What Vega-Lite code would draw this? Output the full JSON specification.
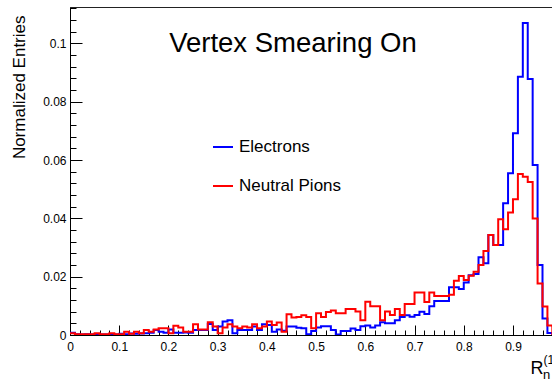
{
  "$schema": "https://vega.github.io/schema/vega-lite/v6.json",
  "width": 482,
  "height": 328,
  "autosize": {"type": "none"},
  "padding": {"left": 70, "top": 7, "right": 0, "bottom": 44},
  "background": "white",
  "config": {
    "font": "Liberation Sans",
    "view": {"stroke": "#222", "strokeWidth": 1},
    "axis": {
      "labelFont": "Liberation Sans",
      "titleFont": "Liberation Sans",
      "labelColor": "#000",
      "titleColor": "#000",
      "domainColor": "#000",
      "tickColor": "#000",
      "grid": false,
      "labelOverlap": false,
      "labelFlush": false,
      "titleFontWeight": "normal"
    }
  },
  "resolve": {"axis": {"x": "independent", "y": "independent"}},
  "datasets": {
    "hist": [
      {"r": 0.00, "entries": 0.0008, "sample": "Electrons"},
      {"r": 0.01, "entries": 0.0003, "sample": "Electrons"},
      {"r": 0.02, "entries": 0.0002, "sample": "Electrons"},
      {"r": 0.03, "entries": 0.0003, "sample": "Electrons"},
      {"r": 0.04, "entries": 0.0002, "sample": "Electrons"},
      {"r": 0.05, "entries": 0.0003, "sample": "Electrons"},
      {"r": 0.06, "entries": 0.0002, "sample": "Electrons"},
      {"r": 0.07, "entries": 0.0002, "sample": "Electrons"},
      {"r": 0.08, "entries": 0.0003, "sample": "Electrons"},
      {"r": 0.09, "entries": 0.0002, "sample": "Electrons"},
      {"r": 0.10, "entries": 0.0004, "sample": "Electrons"},
      {"r": 0.11, "entries": 0.0003, "sample": "Electrons"},
      {"r": 0.12, "entries": 0.0005, "sample": "Electrons"},
      {"r": 0.13, "entries": 0.0004, "sample": "Electrons"},
      {"r": 0.14, "entries": 0.0005, "sample": "Electrons"},
      {"r": 0.15, "entries": 0.0006, "sample": "Electrons"},
      {"r": 0.16, "entries": 0.0008, "sample": "Electrons"},
      {"r": 0.17, "entries": 0.0017, "sample": "Electrons"},
      {"r": 0.18, "entries": 0.0011, "sample": "Electrons"},
      {"r": 0.19, "entries": 0.0008, "sample": "Electrons"},
      {"r": 0.20, "entries": 0.0019, "sample": "Electrons"},
      {"r": 0.21, "entries": 0.0008, "sample": "Electrons"},
      {"r": 0.22, "entries": 0.0008, "sample": "Electrons"},
      {"r": 0.23, "entries": 0.0009, "sample": "Electrons"},
      {"r": 0.24, "entries": 0.0008, "sample": "Electrons"},
      {"r": 0.25, "entries": 0.0017, "sample": "Electrons"},
      {"r": 0.26, "entries": 0.0017, "sample": "Electrons"},
      {"r": 0.27, "entries": 0.0017, "sample": "Electrons"},
      {"r": 0.28, "entries": 0.0038, "sample": "Electrons"},
      {"r": 0.29, "entries": 0.0017, "sample": "Electrons"},
      {"r": 0.30, "entries": 0.0029, "sample": "Electrons"},
      {"r": 0.31, "entries": 0.0046, "sample": "Electrons"},
      {"r": 0.32, "entries": 0.0051, "sample": "Electrons"},
      {"r": 0.33, "entries": 0.0006, "sample": "Electrons"},
      {"r": 0.34, "entries": 0.0017, "sample": "Electrons"},
      {"r": 0.35, "entries": 0.0017, "sample": "Electrons"},
      {"r": 0.36, "entries": 0.0017, "sample": "Electrons"},
      {"r": 0.37, "entries": 0.0029, "sample": "Electrons"},
      {"r": 0.38, "entries": 0.0017, "sample": "Electrons"},
      {"r": 0.39, "entries": 0.0037, "sample": "Electrons"},
      {"r": 0.40, "entries": 0.0034, "sample": "Electrons"},
      {"r": 0.41, "entries": 0.0011, "sample": "Electrons"},
      {"r": 0.42, "entries": 0.0019, "sample": "Electrons"},
      {"r": 0.43, "entries": 0.0015, "sample": "Electrons"},
      {"r": 0.44, "entries": 0.0029, "sample": "Electrons"},
      {"r": 0.45, "entries": 0.0029, "sample": "Electrons"},
      {"r": 0.46, "entries": 0.0025, "sample": "Electrons"},
      {"r": 0.47, "entries": 0.0023, "sample": "Electrons"},
      {"r": 0.48, "entries": 0.0003, "sample": "Electrons"},
      {"r": 0.49, "entries": 0.0014, "sample": "Electrons"},
      {"r": 0.50, "entries": 0.0026, "sample": "Electrons"},
      {"r": 0.51, "entries": 0.0030, "sample": "Electrons"},
      {"r": 0.52, "entries": 0.0030, "sample": "Electrons"},
      {"r": 0.53, "entries": 0.0017, "sample": "Electrons"},
      {"r": 0.54, "entries": 0.0002, "sample": "Electrons"},
      {"r": 0.55, "entries": 0.0014, "sample": "Electrons"},
      {"r": 0.56, "entries": 0.0014, "sample": "Electrons"},
      {"r": 0.57, "entries": 0.0022, "sample": "Electrons"},
      {"r": 0.58, "entries": 0.0017, "sample": "Electrons"},
      {"r": 0.59, "entries": 0.0030, "sample": "Electrons"},
      {"r": 0.60, "entries": 0.0033, "sample": "Electrons"},
      {"r": 0.61, "entries": 0.0026, "sample": "Electrons"},
      {"r": 0.62, "entries": 0.0033, "sample": "Electrons"},
      {"r": 0.63, "entries": 0.0044, "sample": "Electrons"},
      {"r": 0.64, "entries": 0.0040, "sample": "Electrons"},
      {"r": 0.65, "entries": 0.0040, "sample": "Electrons"},
      {"r": 0.66, "entries": 0.0051, "sample": "Electrons"},
      {"r": 0.67, "entries": 0.0062, "sample": "Electrons"},
      {"r": 0.68, "entries": 0.0068, "sample": "Electrons"},
      {"r": 0.69, "entries": 0.0063, "sample": "Electrons"},
      {"r": 0.70, "entries": 0.0069, "sample": "Electrons"},
      {"r": 0.71, "entries": 0.0080, "sample": "Electrons"},
      {"r": 0.72, "entries": 0.0072, "sample": "Electrons"},
      {"r": 0.73, "entries": 0.0099, "sample": "Electrons"},
      {"r": 0.74, "entries": 0.0117, "sample": "Electrons"},
      {"r": 0.75, "entries": 0.0117, "sample": "Electrons"},
      {"r": 0.76, "entries": 0.0117, "sample": "Electrons"},
      {"r": 0.77, "entries": 0.0164, "sample": "Electrons"},
      {"r": 0.78, "entries": 0.0164, "sample": "Electrons"},
      {"r": 0.79, "entries": 0.0158, "sample": "Electrons"},
      {"r": 0.80, "entries": 0.0180, "sample": "Electrons"},
      {"r": 0.81, "entries": 0.0205, "sample": "Electrons"},
      {"r": 0.82, "entries": 0.0209, "sample": "Electrons"},
      {"r": 0.83, "entries": 0.0267, "sample": "Electrons"},
      {"r": 0.84, "entries": 0.0246, "sample": "Electrons"},
      {"r": 0.85, "entries": 0.0343, "sample": "Electrons"},
      {"r": 0.86, "entries": 0.0309, "sample": "Electrons"},
      {"r": 0.87, "entries": 0.0309, "sample": "Electrons"},
      {"r": 0.88, "entries": 0.0452, "sample": "Electrons"},
      {"r": 0.89, "entries": 0.0555, "sample": "Electrons"},
      {"r": 0.90, "entries": 0.0692, "sample": "Electrons"},
      {"r": 0.91, "entries": 0.0886, "sample": "Electrons"},
      {"r": 0.92, "entries": 0.1070, "sample": "Electrons"},
      {"r": 0.93, "entries": 0.0878, "sample": "Electrons"},
      {"r": 0.94, "entries": 0.0583, "sample": "Electrons"},
      {"r": 0.95, "entries": 0.0240, "sample": "Electrons"},
      {"r": 0.96, "entries": 0.0057, "sample": "Electrons"},
      {"r": 0.97, "entries": 0.0007, "sample": "Electrons"},
      {"r": 0.98, "entries": 0.0, "sample": "Electrons"},
      {"r": 0.99, "entries": 0.0, "sample": "Electrons"},
      {"r": 0.00, "entries": 0.0006, "sample": "Neutral Pions"},
      {"r": 0.01, "entries": 0.0003, "sample": "Neutral Pions"},
      {"r": 0.02, "entries": 0.0003, "sample": "Neutral Pions"},
      {"r": 0.03, "entries": 0.0003, "sample": "Neutral Pions"},
      {"r": 0.04, "entries": 0.0003, "sample": "Neutral Pions"},
      {"r": 0.05, "entries": 0.0006, "sample": "Neutral Pions"},
      {"r": 0.06, "entries": 0.0003, "sample": "Neutral Pions"},
      {"r": 0.07, "entries": 0.0003, "sample": "Neutral Pions"},
      {"r": 0.08, "entries": 0.0006, "sample": "Neutral Pions"},
      {"r": 0.09, "entries": 0.0003, "sample": "Neutral Pions"},
      {"r": 0.10, "entries": 0.0003, "sample": "Neutral Pions"},
      {"r": 0.11, "entries": 0.0011, "sample": "Neutral Pions"},
      {"r": 0.12, "entries": 0.0004, "sample": "Neutral Pions"},
      {"r": 0.13, "entries": 0.0011, "sample": "Neutral Pions"},
      {"r": 0.14, "entries": 0.0006, "sample": "Neutral Pions"},
      {"r": 0.15, "entries": 0.0017, "sample": "Neutral Pions"},
      {"r": 0.16, "entries": 0.0011, "sample": "Neutral Pions"},
      {"r": 0.17, "entries": 0.0019, "sample": "Neutral Pions"},
      {"r": 0.18, "entries": 0.0023, "sample": "Neutral Pions"},
      {"r": 0.19, "entries": 0.0023, "sample": "Neutral Pions"},
      {"r": 0.20, "entries": 0.0006, "sample": "Neutral Pions"},
      {"r": 0.21, "entries": 0.0032, "sample": "Neutral Pions"},
      {"r": 0.22, "entries": 0.0026, "sample": "Neutral Pions"},
      {"r": 0.23, "entries": 0.0011, "sample": "Neutral Pions"},
      {"r": 0.24, "entries": 0.0011, "sample": "Neutral Pions"},
      {"r": 0.25, "entries": 0.0037, "sample": "Neutral Pions"},
      {"r": 0.26, "entries": 0.0019, "sample": "Neutral Pions"},
      {"r": 0.27, "entries": 0.0019, "sample": "Neutral Pions"},
      {"r": 0.28, "entries": 0.0044, "sample": "Neutral Pions"},
      {"r": 0.29, "entries": 0.0029, "sample": "Neutral Pions"},
      {"r": 0.30, "entries": 0.0006, "sample": "Neutral Pions"},
      {"r": 0.31, "entries": 0.0026, "sample": "Neutral Pions"},
      {"r": 0.32, "entries": 0.0037, "sample": "Neutral Pions"},
      {"r": 0.33, "entries": 0.0029, "sample": "Neutral Pions"},
      {"r": 0.34, "entries": 0.0023, "sample": "Neutral Pions"},
      {"r": 0.35, "entries": 0.0029, "sample": "Neutral Pions"},
      {"r": 0.36, "entries": 0.0026, "sample": "Neutral Pions"},
      {"r": 0.37, "entries": 0.0037, "sample": "Neutral Pions"},
      {"r": 0.38, "entries": 0.0023, "sample": "Neutral Pions"},
      {"r": 0.39, "entries": 0.0029, "sample": "Neutral Pions"},
      {"r": 0.40, "entries": 0.0046, "sample": "Neutral Pions"},
      {"r": 0.41, "entries": 0.0034, "sample": "Neutral Pions"},
      {"r": 0.42, "entries": 0.0043, "sample": "Neutral Pions"},
      {"r": 0.43, "entries": 0.0011, "sample": "Neutral Pions"},
      {"r": 0.44, "entries": 0.0071, "sample": "Neutral Pions"},
      {"r": 0.45, "entries": 0.0060, "sample": "Neutral Pions"},
      {"r": 0.46, "entries": 0.0062, "sample": "Neutral Pions"},
      {"r": 0.47, "entries": 0.0068, "sample": "Neutral Pions"},
      {"r": 0.48, "entries": 0.0062, "sample": "Neutral Pions"},
      {"r": 0.49, "entries": 0.0023, "sample": "Neutral Pions"},
      {"r": 0.50, "entries": 0.0075, "sample": "Neutral Pions"},
      {"r": 0.51, "entries": 0.0062, "sample": "Neutral Pions"},
      {"r": 0.52, "entries": 0.0079, "sample": "Neutral Pions"},
      {"r": 0.53, "entries": 0.0084, "sample": "Neutral Pions"},
      {"r": 0.54, "entries": 0.0075, "sample": "Neutral Pions"},
      {"r": 0.55, "entries": 0.0075, "sample": "Neutral Pions"},
      {"r": 0.56, "entries": 0.0089, "sample": "Neutral Pions"},
      {"r": 0.57, "entries": 0.0089, "sample": "Neutral Pions"},
      {"r": 0.58, "entries": 0.0081, "sample": "Neutral Pions"},
      {"r": 0.59, "entries": 0.0051, "sample": "Neutral Pions"},
      {"r": 0.60, "entries": 0.0114, "sample": "Neutral Pions"},
      {"r": 0.61, "entries": 0.0099, "sample": "Neutral Pions"},
      {"r": 0.62, "entries": 0.0099, "sample": "Neutral Pions"},
      {"r": 0.63, "entries": 0.0051, "sample": "Neutral Pions"},
      {"r": 0.64, "entries": 0.0081, "sample": "Neutral Pions"},
      {"r": 0.65, "entries": 0.0069, "sample": "Neutral Pions"},
      {"r": 0.66, "entries": 0.0089, "sample": "Neutral Pions"},
      {"r": 0.67, "entries": 0.0069, "sample": "Neutral Pions"},
      {"r": 0.68, "entries": 0.0106, "sample": "Neutral Pions"},
      {"r": 0.69, "entries": 0.0106, "sample": "Neutral Pions"},
      {"r": 0.70, "entries": 0.0146, "sample": "Neutral Pions"},
      {"r": 0.71, "entries": 0.0146, "sample": "Neutral Pions"},
      {"r": 0.72, "entries": 0.0113, "sample": "Neutral Pions"},
      {"r": 0.73, "entries": 0.0146, "sample": "Neutral Pions"},
      {"r": 0.74, "entries": 0.0134, "sample": "Neutral Pions"},
      {"r": 0.75, "entries": 0.0134, "sample": "Neutral Pions"},
      {"r": 0.76, "entries": 0.0134, "sample": "Neutral Pions"},
      {"r": 0.77, "entries": 0.0138, "sample": "Neutral Pions"},
      {"r": 0.78, "entries": 0.0186, "sample": "Neutral Pions"},
      {"r": 0.79, "entries": 0.0202, "sample": "Neutral Pions"},
      {"r": 0.80, "entries": 0.0189, "sample": "Neutral Pions"},
      {"r": 0.81, "entries": 0.0203, "sample": "Neutral Pions"},
      {"r": 0.82, "entries": 0.0217, "sample": "Neutral Pions"},
      {"r": 0.83, "entries": 0.0240, "sample": "Neutral Pions"},
      {"r": 0.84, "entries": 0.0288, "sample": "Neutral Pions"},
      {"r": 0.85, "entries": 0.0343, "sample": "Neutral Pions"},
      {"r": 0.86, "entries": 0.0309, "sample": "Neutral Pions"},
      {"r": 0.87, "entries": 0.0397, "sample": "Neutral Pions"},
      {"r": 0.88, "entries": 0.0363, "sample": "Neutral Pions"},
      {"r": 0.89, "entries": 0.0420, "sample": "Neutral Pions"},
      {"r": 0.90, "entries": 0.0466, "sample": "Neutral Pions"},
      {"r": 0.91, "entries": 0.0552, "sample": "Neutral Pions"},
      {"r": 0.92, "entries": 0.0543, "sample": "Neutral Pions"},
      {"r": 0.93, "entries": 0.0525, "sample": "Neutral Pions"},
      {"r": 0.94, "entries": 0.0400, "sample": "Neutral Pions"},
      {"r": 0.95, "entries": 0.0177, "sample": "Neutral Pions"},
      {"r": 0.96, "entries": 0.0098, "sample": "Neutral Pions"},
      {"r": 0.97, "entries": 0.0033, "sample": "Neutral Pions"},
      {"r": 0.98, "entries": 0.0, "sample": "Neutral Pions"},
      {"r": 0.99, "entries": 0.0, "sample": "Neutral Pions"}
    ]
  },
  "layer": [
    {
      "data": {"name": "hist"},
      "mark": {"type": "line", "interpolate": "step-after", "strokeWidth": 2, "clip": true},
      "encoding": {
        "x": {
          "field": "r",
          "type": "quantitative",
          "scale": {"domain": [0, 0.9793], "nice": false, "zero": false},
          "axis": {
            "orient": "bottom",
            "title": "R",
            "values": [0, 0.1, 0.2, 0.3, 0.4, 0.5, 0.6, 0.7, 0.8, 0.9],
            "format": "~g",
            "tickSize": -10,
            "labelPadding": 16,
            "labelFontSize": 12,
            "titleFontSize": 18,
            "titleX": 460,
            "titleY": 38,
            "titleAlign": "left",
            "titleBaseline": "alphabetic"
          }
        },
        "y": {
          "field": "entries",
          "type": "quantitative",
          "scale": {"domain": [0, 0.1125], "nice": false},
          "axis": {
            "orient": "left",
            "title": "Normalized Entries",
            "values": [0, 0.02, 0.04, 0.06, 0.08, 0.1],
            "format": "~g",
            "tickSize": -12,
            "labelPadding": 16,
            "labelFontSize": 12,
            "titleFontSize": 17,
            "titleAngle": 270,
            "titleX": -51,
            "titleY": 8,
            "titleAlign": "right",
            "titleBaseline": "middle"
          }
        },
        "color": {
          "field": "sample",
          "type": "nominal",
          "scale": {"domain": ["Electrons", "Neutral Pions"], "range": ["#0000ff", "#ff0000"]},
          "legend": {
            "orient": "none",
            "legendX": 142,
            "legendY": 129,
            "title": null,
            "symbolType": "stroke",
            "symbolSize": 400,
            "symbolStrokeWidth": 2,
            "labelFont": "Liberation Sans",
            "labelFontSize": 17,
            "labelColor": "#000",
            "labelOffset": 5,
            "rowPadding": 20,
            "padding": 0
          }
        }
      }
    },
    {
      "data": {"values": [{}]},
      "mark": {"type": "text", "font": "Liberation Sans", "fontSize": 27.5, "align": "center", "baseline": "alphabetic", "color": "#000"},
      "encoding": {
        "x": {
          "datum": 0.453,
          "axis": {
            "orient": "bottom",
            "title": null,
            "labels": false,
            "domain": false,
            "values": [0.02, 0.04, 0.06, 0.08, 0.12, 0.14, 0.16, 0.18, 0.22, 0.24, 0.26, 0.28, 0.32, 0.34, 0.36, 0.38, 0.42, 0.44, 0.46, 0.48, 0.52, 0.54, 0.56, 0.58, 0.62, 0.64, 0.66, 0.68, 0.72, 0.74, 0.76, 0.78, 0.82, 0.84, 0.86, 0.88, 0.92, 0.94, 0.96],
            "tickSize": -5
          }
        },
        "y": {
          "datum": 0.0971,
          "axis": {
            "orient": "left",
            "title": null,
            "labels": false,
            "domain": false,
            "values": [0.004, 0.008, 0.012, 0.016, 0.024, 0.028, 0.032, 0.036, 0.044, 0.048, 0.052, 0.056, 0.064, 0.068, 0.072, 0.076, 0.084, 0.088, 0.092, 0.096, 0.104, 0.108, 0.112],
            "tickSize": -6
          }
        },
        "text": {"value": "Vertex Smearing On"}
      }
    },
    {
      "data": {"values": [{}]},
      "mark": {"type": "text", "font": "Liberation Sans", "fontSize": 13, "align": "left", "baseline": "alphabetic", "color": "#000"},
      "encoding": {
        "x": {"datum": 0.961, "axis": null},
        "y": {"datum": -0.0152, "axis": null},
        "text": {"value": "η"}
      }
    },
    {
      "data": {"values": [{}]},
      "mark": {"type": "text", "font": "Liberation Sans", "fontSize": 12, "align": "left", "baseline": "alphabetic", "color": "#000"},
      "encoding": {
        "x": {"datum": 0.962, "axis": null},
        "y": {"datum": -0.0099, "axis": null},
        "text": {"value": "(1"}
      }
    }
  ]
}
